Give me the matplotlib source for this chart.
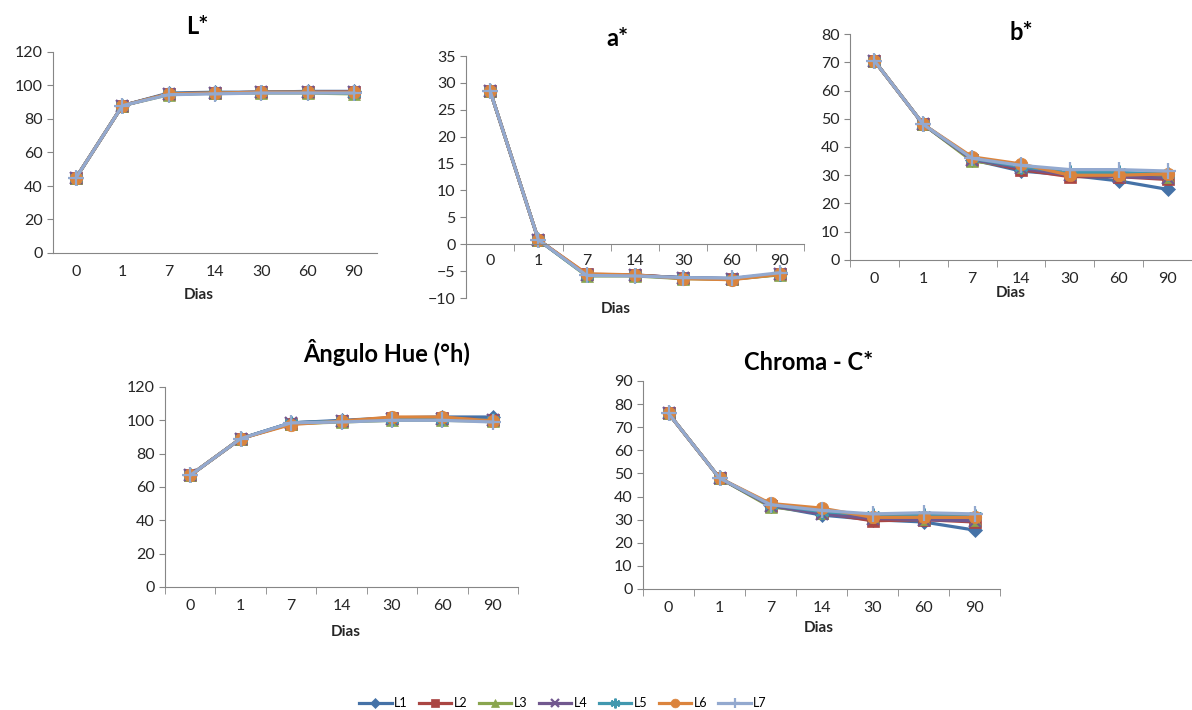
import numpy as np
import matplotlib
matplotlib.use("Agg")
from matplotlib import pyplot as plt

plt.rcParams['font.family'] = ['Lato', 'DejaVu Sans']

dias = ["0", "1", "7", "14", "30", "60", "90"]
lotes = ["L1", "L2", "L3", "L4", "L5", "L6", "L7"]

# valores (L1..L7, dias 0..90)
L_star = [
    [45, 88, 95.5, 96, 96, 96.5, 96.5],
    [45, 88, 95, 95.5, 96, 96, 96],
    [45, 88, 94.5, 95.5, 95.5, 95.5, 95],
    [45, 88, 95, 95.5, 96, 96, 96],
    [45, 88, 95, 95.5, 96, 96, 95.5],
    [45, 88, 95, 95.5, 96, 96, 96],
    [45, 88, 94.5, 95, 95.5, 95.5, 95.5],
]
a_star = [
    [28.5, 0.8, -5.8, -5.8, -6.2, -6.4, -5.5],
    [28.5, 0.8, -5.6, -5.7, -6.3, -6.5, -5.6],
    [28.5, 0.8, -5.9, -5.9, -6.4, -6.5, -5.7],
    [28.5, 0.8, -5.7, -5.8, -6.2, -6.4, -5.5],
    [28.5, 0.8, -5.8, -5.8, -6.3, -6.4, -5.5],
    [28.5, 0.8, -5.5, -5.7, -6.4, -6.6, -5.6],
    [28.5, 0.8, -5.8, -5.9, -6.2, -6.3, -5.3],
]
b_star = [
    [70.5, 48, 35.5, 31.5, 30, 28, 25],
    [70.5, 48, 35.5, 32, 29.5, 29.5, 28.5],
    [70.5, 48, 35, 33, 30.5, 30, 29.5],
    [70.5, 48, 35.5, 32.5, 30, 29.5, 29],
    [70.5, 48, 36, 33, 31, 31, 30.5],
    [70.5, 48, 36.5, 34, 30, 30, 30.5],
    [70.5, 48, 36, 33.5, 32, 32, 31.5],
]
hue = [
    [67, 89, 98.5, 100, 101.5, 102, 102],
    [67, 89, 98, 99.5, 101.5, 101.5, 100],
    [67, 89, 98, 99, 100, 100, 99.5],
    [67, 89, 98.5, 99.5, 101, 101, 100],
    [67, 89, 98.5, 99.5, 101, 101, 100],
    [67, 89, 97.5, 99.5, 102, 102, 99.5],
    [67, 89, 98.5, 99, 100, 100, 99],
]
chroma = [
    [76, 48, 36, 32, 30, 29, 25.5],
    [76, 48, 36, 33, 29.5, 30, 29],
    [76, 48, 35.5, 33, 31, 30.5, 30],
    [76, 48, 36, 32.5, 30.5, 30, 29.5],
    [76, 48, 36.5, 33.5, 32, 32, 31.5],
    [76, 48, 37, 35, 31, 31, 31],
    [76, 48, 36.5, 34, 32.5, 33, 32.5],
]

cores = ["#4572A7", "#AA4643", "#89A54E", "#71588F", "#4198AF", "#DB843D", "#93A9CF"]
marcadores = ["D", "s", "^", "x", (6, 2, 0), "o", "+"]
tam = [7, 8, 8, 9, 10, 9, 11]

fig = plt.figure(figsize=(11.92, 7.10), dpi=100)
W, H = 1192.0, 710.0


def eixo(x0, x1, ytop, ybot):
    return fig.add_axes([x0 / W, 1 - ybot / H, (x1 - x0) / W, (ybot - ytop) / H])


def painel(ax, dados, titulo, ylim, passo, tit_xy, dias_xy, xticks_min=True, zero=False):
    x = np.arange(len(dias))
    for i in range(len(lotes)):
        ax.plot(x, dados[i], color=cores[i], marker=marcadores[i], markersize=tam[i],
                markeredgewidth=1.6 if marcadores[i] in ("x", "+", (6, 2, 0)) else 0.5,
                lw=2.3, label=lotes[i])
    ax.set_xlim(-0.5, 6.5)
    ax.set_ylim(*ylim)
    ax.set_yticks(np.arange(ylim[0], ylim[1] + 0.1, passo))
    ax.set_xticks(x)
    ax.set_xticklabels(dias)
    ax.tick_params(axis='x', length=0, pad=9, labelsize=11.5, colors="#262626")
    ax.tick_params(axis='y', length=4, color="#868686", labelsize=11.5, labelcolor="#262626")
    if xticks_min:
        ax.set_xticks(np.arange(-0.5, 6.6, 1), minor=True)
        ax.tick_params(axis='x', which='minor', length=5, color="#868686")
    for s in ["top", "right"]:
        ax.spines[s].set_visible(False)
    for s in ["left", "bottom"]:
        ax.spines[s].set_color("#868686")
    if zero:
        ax.spines['bottom'].set_position(('data', 0))
        ax.tick_params(axis='x', pad=7)
    fig.text(tit_xy[0] / W, 1 - tit_xy[1] / H, titulo, fontsize=17, fontweight='bold',
             ha='center', va='center')
    fig.text(dias_xy[0] / W, 1 - dias_xy[1] / H, "Dias", fontsize=11, fontweight='bold',
             ha='center', va='center', color="#262626")


ax1 = eixo(53, 377, 52, 253)
painel(ax1, L_star, "L*", (0, 120), 20, (197, 26), (199, 295), xticks_min=False)

ax2 = eixo(466, 804, 56, 298)
painel(ax2, a_star, "a*", (-10, 35), 5, (617, 38), (616, 309), zero=True)

ax3 = eixo(850, 1192, 34, 260)
painel(ax3, b_star, "b*", (0, 80), 10, (1021, 32), (1011, 293))

ax4 = eixo(165, 518, 387, 587)
painel(ax4, hue, "Ângulo Hue (°h)", (0, 120), 20, (387, 353), (346, 632))

ax5 = eixo(643, 1000, 381, 589)
painel(ax5, chroma, "Chroma - C*", (0, 90), 10, (809, 362), (819, 628))

handles, labels = ax1.get_legend_handles_labels()
fig.legend(handles, labels, loc='center', bbox_to_anchor=(563 / W, 1 - 703 / H), ncol=7,
           frameon=False, fontsize=9, handlelength=2.6, columnspacing=0.9, handletextpad=0.2,
           markerscale=0.7)

fig.savefig("out.png", dpi=100)
